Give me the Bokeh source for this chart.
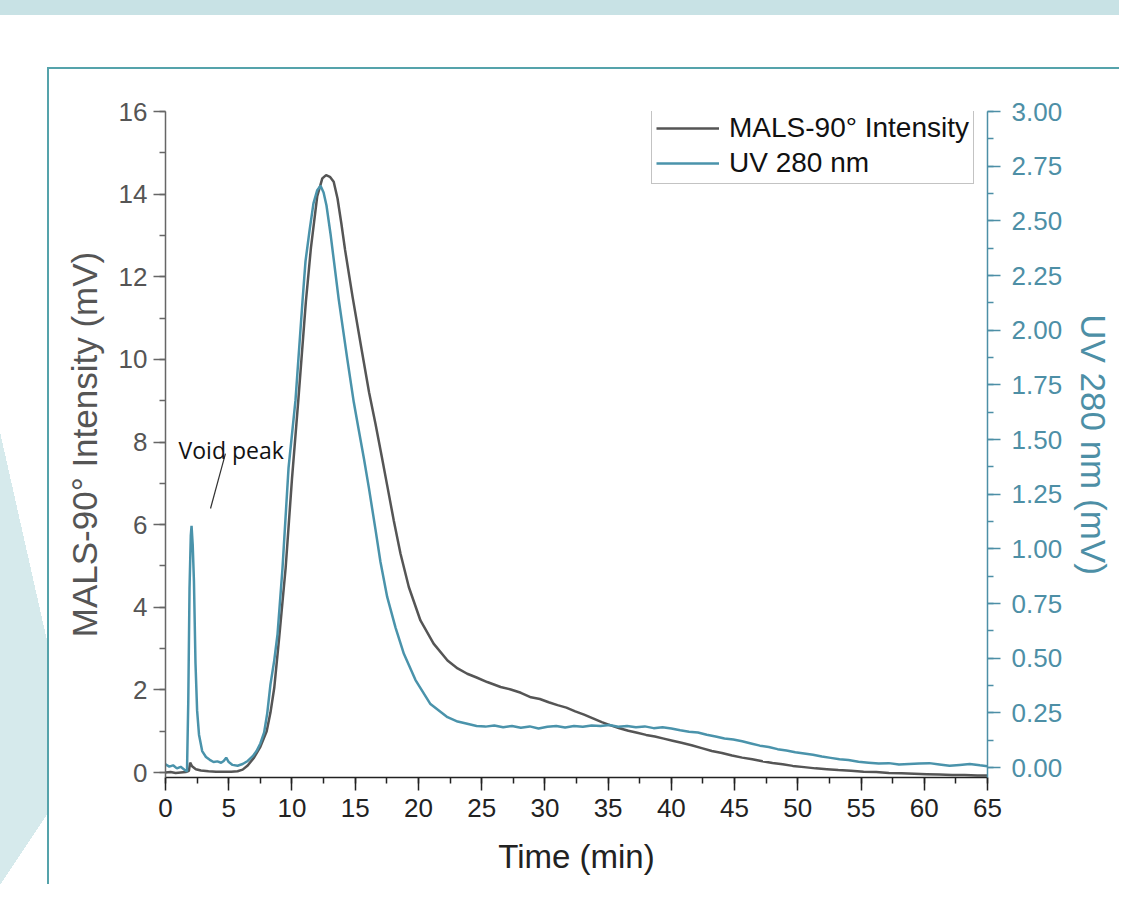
from bokeh.plotting import figure
from bokeh.models import (Range1d, LinearAxis, SingleIntervalTicker, NumeralTickFormatter,
                          Legend, LegendItem, Label)
from bokeh.embed import file_html
from bokeh.resources import INLINE

# ---------------- data ----------------
time_mals = [0.0, 0.4, 0.8, 1.2, 1.6, 1.85, 1.95, 2.1, 2.4, 2.8, 3.4, 4.0, 4.6, 5.2, 5.7, 6.1, 6.5,
             7.0, 7.5, 8.0, 8.3, 8.6, 9.0, 9.5, 10.0, 10.5, 11.1, 11.5, 12.0, 12.4, 12.7, 13.0, 13.3,
             13.6, 13.9, 14.2, 14.8, 15.5, 16.1, 16.6, 17.13, 17.53, 18.05, 18.58, 19.24, 20.16,
             21.2, 22.3, 23.1, 23.86, 24.6, 25.44, 26.5, 27.3, 28.1, 28.9, 29.6, 30.3, 31.0, 31.7,
             32.4, 33.1, 33.8, 34.5, 35.2, 35.9, 36.6, 37.3, 38.0, 38.7, 39.4, 40.1, 40.8, 41.6,
             42.4, 43.2, 44.0, 44.8, 45.6, 46.4, 47.2, 48.0, 48.8, 49.6, 50.5, 51.4, 52.3, 53.2,
             54.2, 55.2, 56.2, 57.2, 58.2, 59.2, 60.2, 61.2, 62.2, 63.2, 64.2, 65.0]
mals_mv = [0.00, 0.01, -0.01, 0.00, 0.01, 0.04, 0.24, 0.15, 0.08, 0.05, 0.03, 0.02, 0.02, 0.02,
           0.03, 0.07, 0.17, 0.36, 0.62, 1.00, 1.45, 2.05, 3.30, 4.95, 7.10, 9.00, 11.40, 12.70,
           13.95, 14.38, 14.46, 14.42, 14.30, 13.90, 13.30, 12.65, 11.50, 10.25, 9.20, 8.45, 7.60,
           6.95, 6.10, 5.30, 4.49, 3.68, 3.12, 2.71, 2.52, 2.39, 2.30, 2.19, 2.07, 2.01, 1.93,
           1.82, 1.78, 1.70, 1.63, 1.57, 1.48, 1.40, 1.31, 1.22, 1.14, 1.07, 1.01, 0.96, 0.91,
           0.87, 0.82, 0.77, 0.72, 0.66, 0.59, 0.52, 0.47, 0.41, 0.36, 0.32, 0.27, 0.23, 0.20,
           0.16, 0.13, 0.10, 0.08, 0.06, 0.04, 0.02, 0.01, -0.01, -0.02, -0.03, -0.04, -0.05,
           -0.06, -0.06, -0.07, -0.07]

time_uv = [0.0, 0.3, 0.6, 0.9, 1.2, 1.5, 1.7, 1.8, 1.9, 2.0, 2.06, 2.15, 2.25, 2.37, 2.5, 2.65,
           2.9, 3.2, 3.5, 3.8, 4.1, 4.4, 4.6, 4.8, 5.0, 5.3, 5.7, 6.1, 6.5, 6.9, 7.2, 7.5, 7.8,
           8.05, 8.3, 8.6, 8.86, 9.25, 9.73, 10.28, 10.83, 11.07, 11.4, 11.7, 12.0, 12.26, 12.5,
           12.73, 13.05, 13.31, 13.7, 14.37, 14.89, 15.26, 15.7, 16.08, 16.6, 17.0, 17.53, 18.19,
           18.85, 19.77, 20.95, 22.3, 23.1, 23.86, 24.6, 25.3, 26.0, 26.7, 27.4, 28.1, 28.8, 29.5,
           30.2, 30.9, 31.6, 32.3, 33.0, 33.7, 34.4, 35.1, 35.8, 36.5, 37.2, 37.9, 38.6, 39.3,
           40.0, 40.7, 41.4, 42.1, 42.8, 43.5, 44.2, 44.9, 45.6, 46.3, 47.0, 47.7, 48.4, 49.1,
           49.8, 50.5, 51.2, 51.9, 52.6, 53.3, 54.0, 54.8, 55.6, 56.4, 57.2, 58.0, 58.8, 59.6,
           60.4, 61.2, 62.0, 62.8, 63.6, 64.4, 65.0]
uv_mv = [0.014, 0.004, 0.010, -0.004, 0.003, -0.010, -0.018, 0.30, 0.82, 1.06, 1.105, 1.02, 0.85,
         0.48, 0.26, 0.15, 0.075, 0.048, 0.035, 0.025, 0.028, 0.022, 0.030, 0.045, 0.025, 0.012,
         0.008, 0.016, 0.030, 0.052, 0.075, 0.11, 0.16, 0.25, 0.38, 0.49, 0.61, 0.91, 1.37, 1.68,
         2.13, 2.315, 2.46, 2.58, 2.64, 2.66, 2.63, 2.57, 2.44, 2.32, 2.14, 1.87, 1.67, 1.55, 1.41,
         1.28, 1.09, 0.94, 0.78, 0.64, 0.52, 0.40, 0.29, 0.23, 0.21, 0.20, 0.19, 0.187,
         0.192, 0.184, 0.19, 0.182, 0.188, 0.178, 0.186, 0.19, 0.183, 0.19, 0.186, 0.192, 0.19,
         0.194, 0.186, 0.19, 0.184, 0.188, 0.18, 0.184, 0.178, 0.17, 0.164, 0.16, 0.15, 0.142,
         0.133, 0.128, 0.12, 0.11, 0.10, 0.094, 0.084, 0.078, 0.07, 0.064, 0.058, 0.05, 0.044,
         0.038, 0.034, 0.026, 0.022, 0.018, 0.02, 0.014, 0.016, 0.018, 0.02, 0.014, 0.008, 0.012,
         0.016, 0.01, 0.006]

series_labels = ["MALS-90° Intensity", "UV 280 nm"]
x_title = "Time (min)"
y_left_title = "MALS-90° Intensity (mV)"
y_right_title = "UV 280 nm (mV)"
annot_text = "Void peak"
annot_text_pos = (1.03, 7.8)
annot_line = (4.74, 7.72, 3.56, 6.39)

# ---------------- style ----------------
GRAY = "#555555"
TEAL = "#4a93ab"
TEAL_TXT = "#4d8fa6"
FONT = "Liberation Sans"
BAND = "#c8e2e5"
TRI = "#d6eaec"
EDGE = "#55a3ab"

W, H = 1119, 884
p = figure(width=W, height=H, output_backend="svg", toolbar_location=None,
           x_range=Range1d(0, 65), y_range=Range1d(-0.121, 16),
           min_border_left=165, min_border_right=W - 987, min_border_top=111,
           min_border_bottom=H - 777)
p.extra_y_ranges = {"uv": Range1d(-0.0457, 3.0)}
p.grid.visible = False
p.outline_line_color = None
p.background_fill_color = "white"
p.border_fill_color = None

# page decorations drawn as the figure element's CSS background (behind the transparent canvas)
layers = [
    (f"linear-gradient({EDGE},{EDGE})", "48px 67px", f"{W}px 2px"),
    (f"linear-gradient({EDGE},{EDGE})", "47px 67px", f"2px {H}px"),
    ("linear-gradient(to bottom left, white 50%, transparent 50%)", "0px 432px", "48px 213px"),
    ("linear-gradient(to bottom right, transparent 50%, white 50%)", "0px 813px", "48px 72px"),
    (f"linear-gradient({TRI},{TRI})", "0px 432px", "48px 453px"),
    (f"linear-gradient({BAND},{BAND})", "0px 0px", f"{W}px 15px"),
]
p.styles = {
    "background-color": "white",
    "background-image": ", ".join(l[0] for l in layers),
    "background-position": ", ".join(l[1] for l in layers),
    "background-size": ", ".join(l[2] for l in layers),
    "background-repeat": "no-repeat",
}

# curves
r_mals = p.line(time_mals, mals_mv, line_color=GRAY, line_width=2.5)
r_uv = p.line(time_uv, uv_mv, line_color=TEAL, line_width=2.5, y_range_name="uv")

# x axis
xa = p.xaxis[0]
xa.ticker = SingleIntervalTicker(interval=5, num_minor_ticks=2)
xa.axis_line_color = "#222222"
xa.axis_line_width = 1.5
xa.major_tick_line_color = "#222222"
xa.minor_tick_line_color = "#222222"
xa.major_tick_line_width = 1.5
xa.minor_tick_line_width = 1.5
xa.major_tick_in = 0
xa.major_tick_out = 13
xa.minor_tick_in = 0
xa.minor_tick_out = 6
xa.major_label_text_font = FONT
xa.major_label_text_font_size = "26px"
xa.major_label_text_color = "#222222"
xa.major_label_standoff = 8
xa.axis_label = x_title
xa.axis_label_text_font = FONT
xa.axis_label_text_font_size = "33px"
xa.axis_label_text_font_style = "normal"
xa.axis_label_text_color = "#222222"
xa.axis_label_standoff = 18

# left axis
ya = p.yaxis[0]
ya.ticker = SingleIntervalTicker(interval=2, num_minor_ticks=2)
ya.axis_line_color = "#666666"
ya.axis_line_width = 1.5
ya.major_tick_line_color = "#666666"
ya.minor_tick_line_color = "#666666"
ya.major_tick_line_width = 1.5
ya.minor_tick_line_width = 1.5
ya.major_tick_in = 0
ya.major_tick_out = 12
ya.minor_tick_in = 0
ya.minor_tick_out = 6
ya.major_label_text_font = FONT
ya.major_label_text_font_size = "26px"
ya.major_label_text_color = "#555555"
ya.major_label_standoff = 6
ya.axis_label = y_left_title
ya.axis_label_text_font = FONT
ya.axis_label_text_font_size = "35px"
ya.axis_label_text_font_style = "normal"
ya.axis_label_text_color = "#555555"
ya.axis_label_standoff = 12

# right axis
ra = LinearAxis(y_range_name="uv", ticker=SingleIntervalTicker(interval=0.25, num_minor_ticks=2),
                formatter=NumeralTickFormatter(format="0.00"))
ra.axis_line_color = TEAL_TXT
ra.axis_line_width = 1.5
ra.major_tick_line_color = TEAL_TXT
ra.minor_tick_line_color = TEAL_TXT
ra.major_tick_line_width = 1.5
ra.minor_tick_line_width = 1.5
ra.major_tick_in = 0
ra.major_tick_out = 13
ra.minor_tick_in = 0
ra.minor_tick_out = 6
ra.major_label_text_font = FONT
ra.major_label_text_font_size = "26px"
ra.major_label_text_color = TEAL_TXT
ra.major_label_standoff = 11
ra.axis_label = y_right_title
ra.axis_label_text_font = FONT
ra.axis_label_text_font_size = "35px"
ra.axis_label_text_font_style = "normal"
ra.axis_label_text_color = TEAL_TXT
ra.axis_label_standoff = 9
p.add_layout(ra, "right")

# legend
legend = Legend(items=[LegendItem(label=series_labels[0], renderers=[r_mals]),
                       LegendItem(label=series_labels[1], renderers=[r_uv])],
                location=(486, 593))
legend.border_line_color = "#888888"
legend.border_line_width = 1
legend.background_fill_color = "white"
legend.background_fill_alpha = 1
legend.label_text_font = FONT
legend.label_text_font_size = "28px"
legend.label_text_color = "#111111"
legend.glyph_width = 63
legend.glyph_height = 30
legend.label_height = 30
legend.label_standoff = 10
legend.padding = 4
legend.spacing = 3
legend.margin = 0
p.add_layout(legend)

# void peak annotation
p.segment(x0=[annot_line[0]], y0=[annot_line[1]], x1=[annot_line[2]], y1=[annot_line[3]],
          line_color="#333333", line_width=1.2)
p.add_layout(Label(x=annot_text_pos[0], y=annot_text_pos[1], text=annot_text,
                   text_font="Open Sans", text_font_size="23px", text_color="#111111",
                   text_baseline="alphabetic"))

open("out.html", "w").write(file_html(p, INLINE))
